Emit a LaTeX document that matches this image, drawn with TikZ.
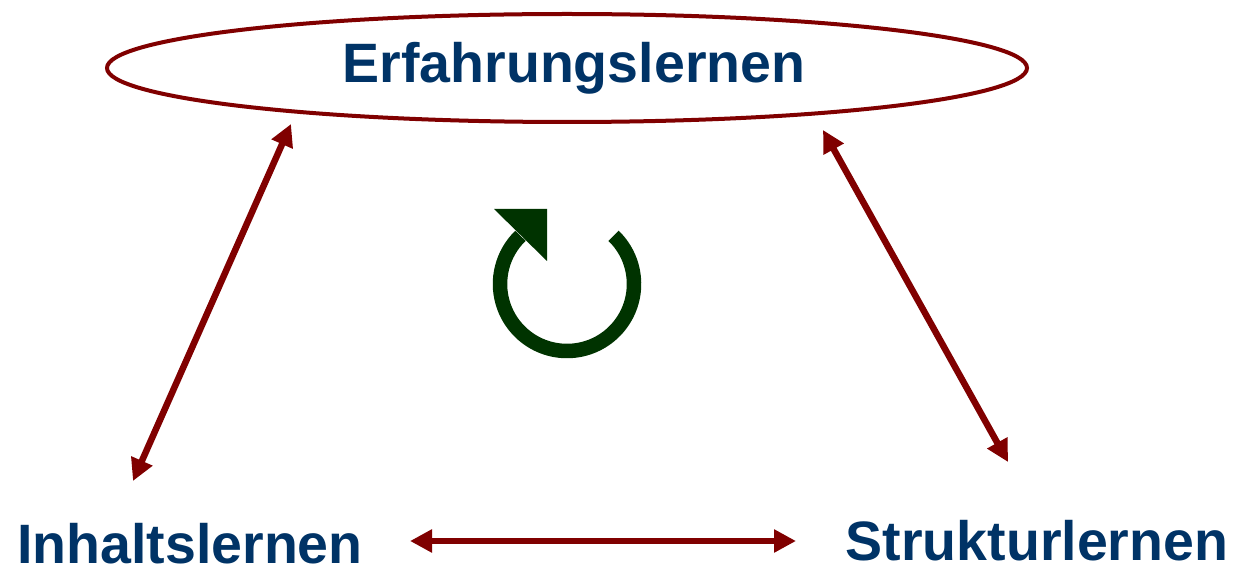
\documentclass[tikz,border=0pt]{standalone}
\usepackage{fontspec}
\setmainfont{Liberation Sans}
\usetikzlibrary{arrows.meta,shapes.geometric}
\definecolor{linkred}{HTML}{800000}
\definecolor{termblue}{HTML}{003366}
\definecolor{cyclegreen}{HTML}{003300}
\tikzset{
  term/.style={inner sep=0pt, anchor=base, text=termblue,
    font=\fontsize{55.5}{60}\selectfont\bfseries},
  link/.style={draw=linkred, line width=6.5pt,
    {Triangle[length=22pt,width=22pt]}-{Triangle[length=22pt,width=22pt]}},
  frame/.style={ellipse, draw=linkred, line width=4pt, inner sep=0pt}
}
\begin{document}
\begin{tikzpicture}[x=1pt,y=1pt]
  \useasboundingbox (0,0) rectangle (1236,-569);

  % the three kinds of learning
  \node[frame, minimum width=920pt, minimum height=108pt] (ell) at (567,-68) {};
  \node[term] (erf) at (574,-83) {Erfahrungslernen};
  \node[term] (inh) at (190,-563) {Inhaltslernen};
  \node[term] (str) at (1037,-560) {Strukturlernen};

  % arrow end points
  \coordinate (ellL) at (291,-124);
  \coordinate (inhT) at (133,-481);
  \coordinate (ellR) at (823,-130);
  \coordinate (strT) at (1008,-462);
  \coordinate (inhR) at (410,-541);
  \coordinate (strL) at (796,-541);

  \draw[link] (inhT) -- (ellL);
  \draw[link] (ellR) -- (strT);
  \draw[link] (inhR) -- (strL);

  % cycle symbol in the middle
  \coordinate (cyc) at (567,-284);
  \draw[cyclegreen, line width=14.5pt] (cyc) ++(46:67) arc[start angle=46, end angle=-226, radius=67];
  \fill[cyclegreen] (494,-209) -- (547,-209) -- (547,-261) -- cycle;
\end{tikzpicture}
\end{document}
